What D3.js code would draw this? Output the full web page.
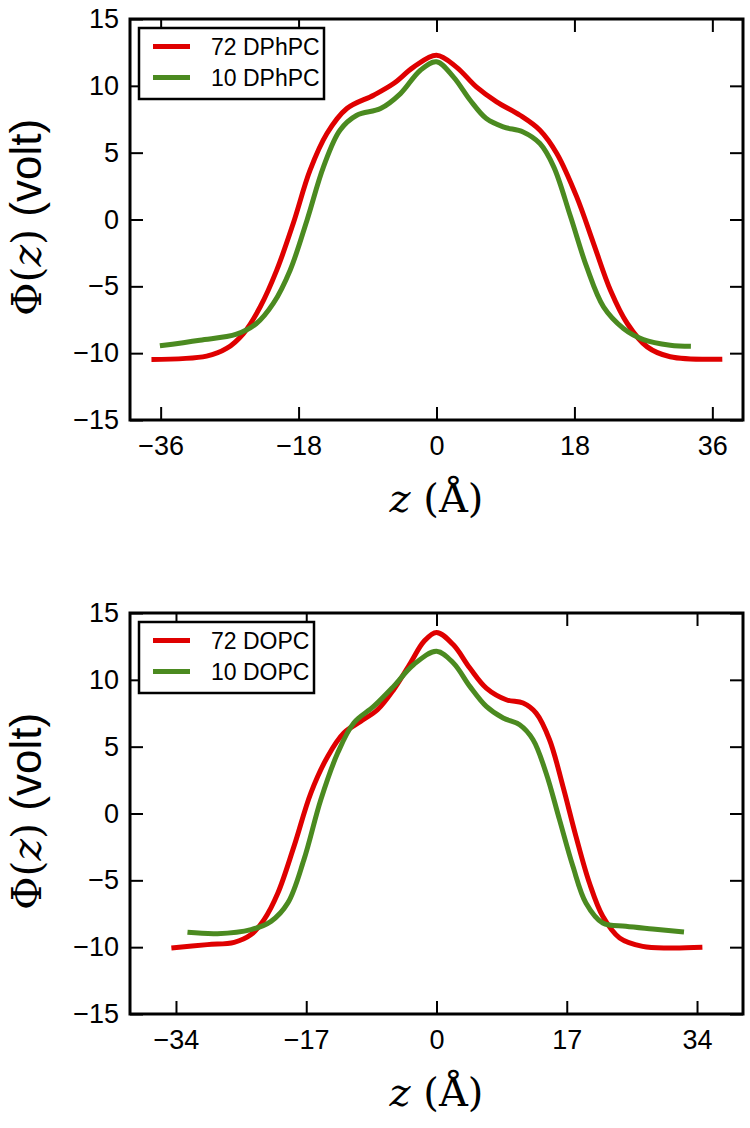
<!DOCTYPE html>
<html>
<head>
<meta charset="utf-8">
<script src="https://cdn.jsdelivr.net/npm/d3@7"></script>
<style>
  html, body { margin: 0; padding: 0; background: #fff; }
  svg { display: block; }
</style>
</head>
<body>
<svg id="chart" width="750" height="1128"></svg>
<script>
// ---------- data (z in Å, Φ in volt) ----------
const yTicks = [-15, -10, -5, 0, 5, 10, 15];
const zTicksTop = [-36, -18, 0, 18, 36];
const zTicksBottom = [-34, -17, 0, 17, 34];
const legendTop = ["72 DPhPC", "10 DPhPC"];
const legendBottom = ["72 DOPC", "10 DOPC"];

const dphpc72 = [
  [-37.2,-10.47],[-30.0,-10.22],[-27.4,-9.65],[-25.2,-8.53],[-23.0,-6.53],[-20.85,-3.79],
  [-18.7,-0.3],[-16.5,3.69],[-14.3,6.43],[-11.7,8.3],[-8.2,9.3],[-5.6,10.17],[-3.0,11.4],
  [0.0,12.29],[2.6,11.4],[5.2,9.92],[7.85,8.8],[10.9,7.8],[13.5,6.68],[15.7,4.94],
  [18.3,1.69],[20.5,-1.8],[22.7,-5.29],[24.9,-7.78],[27.5,-9.53],[30.5,-10.27],[37.3,-10.45]
];
const dphpc10 = [
  [-36.1,-9.45],[-30.9,-9.03],[-26.1,-8.58],[-23.5,-7.78],[-21.3,-6.28],[-19.1,-3.79],
  [-16.9,-0.05],[-14.75,3.94],[-12.6,6.68],[-10.4,7.8],[-7.3,8.3],[-4.7,9.42],[-2.1,11.17],
  [0.0,11.8],[2.2,10.67],[4.4,8.92],[6.5,7.55],[8.7,6.93],[11.3,6.55],[13.5,5.68],
  [15.3,3.94],[17.5,0.2],[19.6,-3.55],[21.8,-6.54],[24.4,-8.15],[27.0,-8.98],[30.5,-9.4],[33.2,-9.48]
];
const dopc72 = [
  [-34.6,-10.06],[-29.9,-9.81],[-26.4,-9.64],[-24.2,-9.06],[-22.5,-7.94],[-20.7,-5.95],
  [-18.6,-2.46],[-16.4,1.53],[-14.2,4.27],[-12.1,6.02],[-9.9,6.89],[-7.7,7.76],[-5.6,9.26],
  [-3.4,11.26],[-1.65,12.87],[0.0,13.55],[2.2,12.62],[4.35,10.88],[6.5,9.38],[9.1,8.51],
  [11.3,8.26],[13.0,7.51],[14.75,5.52],[16.5,2.03],[18.2,-1.71],[19.96,-5.2],[21.7,-7.69],
  [23.9,-9.31],[26.9,-9.94],[30.4,-10.06],[34.7,-10.01]
];
const dopc10 = [
  [-32.5,-8.89],[-28.6,-8.99],[-24.2,-8.69],[-21.6,-8.07],[-19.4,-6.69],[-17.3,-3.45],
  [-15.1,1.03],[-12.9,4.52],[-10.8,6.77],[-8.2,8.01],[-5.6,9.51],[-3.0,11.13],[0.0,12.13],
  [2.2,11.26],[4.35,9.51],[6.5,8.01],[8.7,7.14],[10.85,6.64],[12.6,5.52],[14.3,3.03],
  [16.05,-0.46],[17.8,-3.95],[19.5,-6.69],[21.7,-8.19],[24.7,-8.44],[28.2,-8.64],[32.3,-8.86]
];

const RED = "#df0000";
const GREEN = "#4b8a20";

const svg = d3.select("#chart");

function panel(cfg) {
  const { left, right, top, bottom, zTicks, series, labels, legendW } = cfg;
  const x = d3.scaleLinear().domain([-40, 40]).range([left, right]);
  const y = d3.scaleLinear().domain([-15, 15]).range([bottom, top]);
  const g = svg.append("g");

  const tickStyle = sel => {
    sel.select(".domain").remove();
    sel.selectAll(".tick line").attr("stroke", "#000").attr("stroke-width", 2);
    sel.selectAll(".tick text")
      .attr("font-family", "Liberation Sans, Arial, sans-serif")
      .attr("font-size", 27).attr("fill", "#000");
  };

  // bottom axis (labels)
  g.append("g").attr("transform", `translate(0,${bottom})`)
    .call(d3.axisBottom(x).tickValues(zTicks).tickSize(-13).tickPadding(16)
      .tickFormat(d3.format("d")))
    .call(tickStyle);
  // top axis (ticks only)
  g.append("g").attr("transform", `translate(0,${top})`)
    .call(d3.axisTop(x).tickValues(zTicks).tickSize(-13).tickFormat(""))
    .call(tickStyle);
  // left axis (labels)
  g.append("g").attr("transform", `translate(${left},0)`)
    .call(d3.axisLeft(y).tickValues(yTicks).tickSize(-13).tickPadding(11)
      .tickFormat(d3.format("d")))
    .call(tickStyle);
  // right axis (ticks only)
  g.append("g").attr("transform", `translate(${right},0)`)
    .call(d3.axisRight(y).tickValues(yTicks).tickSize(-13).tickFormat(""))
    .call(tickStyle);

  // curves
  const line = d3.line()
    .x(d => x(d[0])).y(d => y(d[1]))
    .curve(d3.curveCatmullRom.alpha(0.5));
  const colors = [RED, GREEN];
  series.forEach((s, i) => {
    g.append("path").datum(s)
      .attr("d", line)
      .attr("fill", "none")
      .attr("stroke", colors[i])
      .attr("stroke-width", 5)
      .attr("stroke-linejoin", "round");
  });

  // frame
  g.append("rect")
    .attr("x", left).attr("y", top)
    .attr("width", right - left).attr("height", bottom - top)
    .attr("fill", "none").attr("stroke", "#000").attr("stroke-width", 3);

  // legend
  const lg = g.append("g").attr("transform", `translate(${left + 9},${top + 9})`);
  lg.append("rect").attr("x", 0).attr("y", 0)
    .attr("width", legendW).attr("height", 71)
    .attr("fill", "#fff").attr("stroke", "#000").attr("stroke-width", 2.5);
  labels.forEach((lab, i) => {
    const ly = 18.5 + i * 31;
    lg.append("line").attr("x1", 14).attr("x2", 51).attr("y1", ly).attr("y2", ly)
      .attr("stroke", colors[i]).attr("stroke-width", 5);
    lg.append("text").attr("x", 72).attr("y", ly).attr("dy", "0.36em")
      .attr("font-family", "Liberation Sans, Arial, sans-serif")
      .attr("font-size", 23).attr("fill", "#000").text(lab);
  });

  // x label: z (Å)
  const xl = g.append("text")
    .attr("x", (left + right) / 2).attr("y", bottom + 92)
    .attr("text-anchor", "middle")
    .attr("font-family", "DejaVu Serif, serif").attr("font-size", 40).attr("fill", "#000");
  xl.append("tspan").attr("font-style", "italic").text("z");
  xl.append("tspan").text(" (Å)");

  // y label: Φ(z) (volt)
  const cy = (top + bottom) / 2 - 2;
  const yl = g.append("text")
    .attr("transform", `translate(41,${cy}) rotate(-90)`)
    .attr("text-anchor", "middle").attr("fill", "#000");
  yl.append("tspan").attr("font-family", "DejaVu Serif, serif").attr("font-size", 41).text("Φ(");
  yl.append("tspan").attr("font-family", "DejaVu Serif, serif").attr("font-size", 41)
    .attr("font-style", "italic").text("z");
  yl.append("tspan").attr("font-family", "DejaVu Serif, serif").attr("font-size", 41).text(")");
  yl.append("tspan").attr("font-family", "Liberation Sans, Arial, sans-serif")
    .attr("font-size", 44).text(" (volt)");
}

panel({ left: 130, right: 743, top: 19, bottom: 420, zTicks: zTicksTop,
        series: [dphpc72, dphpc10], labels: legendTop, legendW: 185 });
panel({ left: 130, right: 743, top: 613, bottom: 1014, zTicks: zTicksBottom,
        series: [dopc72, dopc10], labels: legendBottom, legendW: 175 });
</script>
</body>
</html>
